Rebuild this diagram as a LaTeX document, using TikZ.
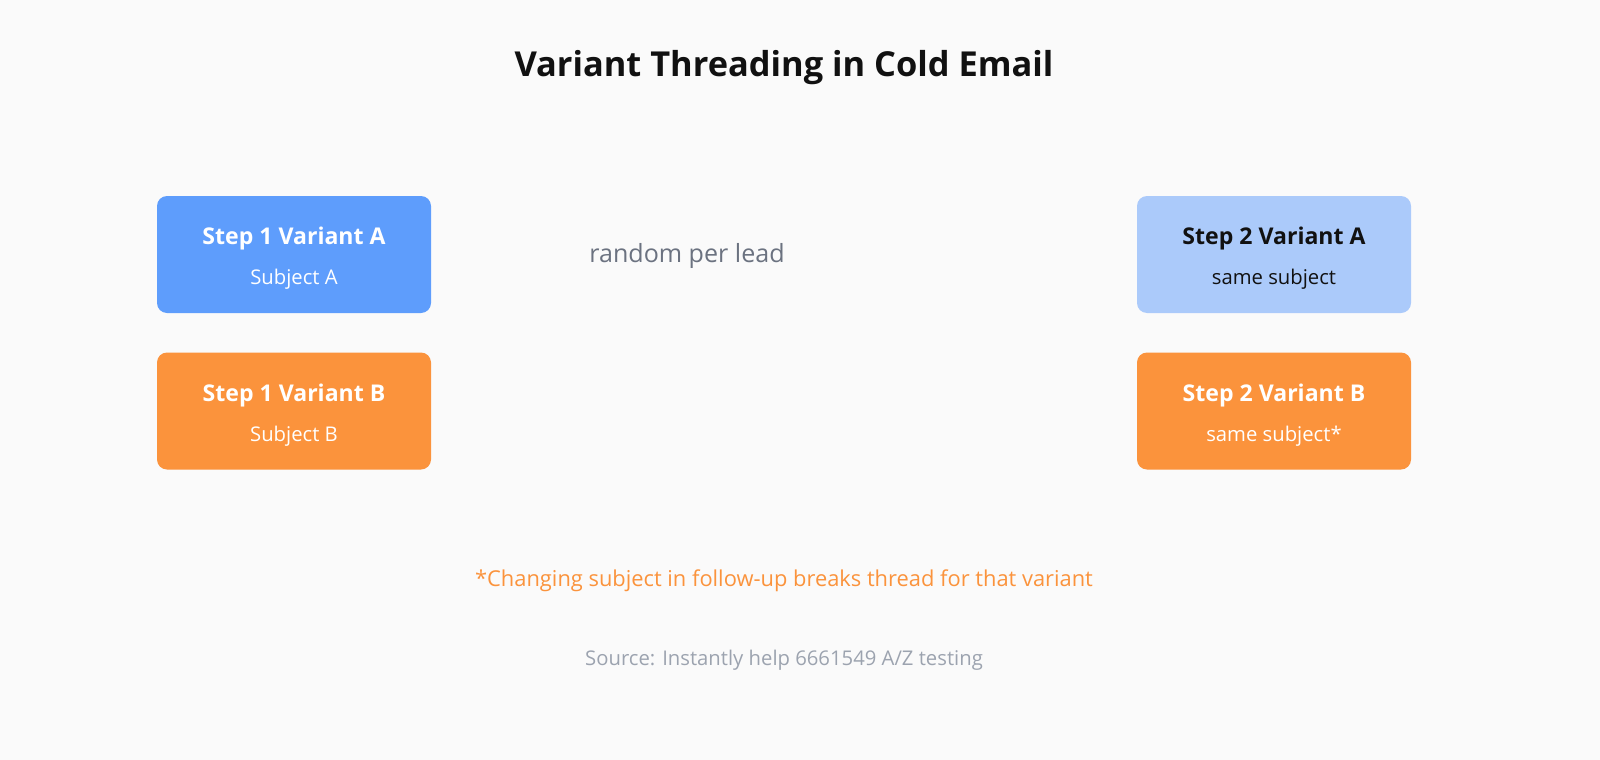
\documentclass[tikz,border=0pt]{standalone}
\usepackage{fontspec}
\setmainfont{Open Sans}
\definecolor{bg}{HTML}{FAFAFA}
\definecolor{blueA}{HTML}{5E9DFC}
\definecolor{blueL}{HTML}{ABCAFA}
\definecolor{orangeB}{HTML}{FB933C}
\definecolor{grayT}{HTML}{6B7280}
\definecolor{grayS}{HTML}{9CA3AF}
\definecolor{darkT}{HTML}{111111}
\begin{document}
\begin{tikzpicture}[x=0.75pt,y=-0.75pt,
  box/.style={rounded corners=7.5pt,minimum width=205.5pt,minimum height=87.75pt,inner sep=0pt,align=center},
  head/.style={font=\fontsize{17.3}{20}\selectfont\bfseries},
  sub/.style={font=\fontsize{15.2}{18}\selectfont}]
\fill[bg] (0,0) rectangle (1600,760);
\useasboundingbox (0,0) rectangle (1600,760);
\node[font=\fontsize{25.8}{30}\selectfont\bfseries,text=darkT] (title) at (784,68) {Variant Threading in Cold Email};
\node[box,fill=blueA] (s1a) at (294,254.5) {};
\node[head,text=white] (s1at) at (294,239) {Step 1 Variant A};
\node[sub,text=white] (s1as) at (294,279) {Subject A};
\node[box,fill=orangeB] (s1b) at (294,411) {};
\node[head,text=white] (s1bt) at (294,396) {Step 1 Variant B};
\node[sub,text=white] (s1bs) at (294,436) {Subject B};
\node[box,fill=blueL] (s2a) at (1274,254.5) {};
\node[head,text=darkT] (s2at) at (1274,239) {Step 2 Variant A};
\node[sub,text=darkT] (s2as) at (1274,279) {same subject};
\node[box,fill=orangeB] (s2b) at (1274,411) {};
\node[head,text=white] (s2bt) at (1274,396) {Step 2 Variant B};
\node[sub,text=white] (s2bs) at (1274,436) {same subject*};
\node[font=\fontsize{18.8}{22}\selectfont,text=grayT] (rnd) at (687,256) {random per lead};
\node[font=\fontsize{16.4}{20}\selectfont,text=orangeB] (note) at (784,581) {*Changing subject in follow-up breaks thread for that variant};
\node[font=\fontsize{15.2}{18}\selectfont,text=grayS] (src) at (784,660) {Source: Instantly help 6661549 A/Z testing};
\end{tikzpicture}
\end{document}
